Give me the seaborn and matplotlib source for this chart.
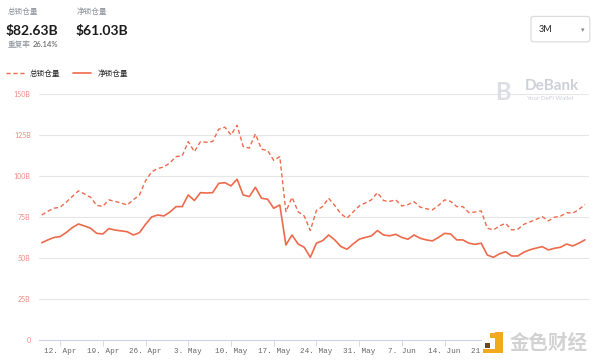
import numpy as np
import pandas as pd
import seaborn as sns
import matplotlib.pyplot as plt
import matplotlib.dates as mdates
from matplotlib.ticker import FuncFormatter
from matplotlib.patches import FancyBboxPatch, Rectangle

# 数据：每日锁仓量 (单位 B)
start_date = "2021-04-09"
total_locked = [
    76.2, 78.5, 80.3, 80.9, 84.0, 87.5, 90.9, 89.0, 87.0, 82.0,
    81.5, 85.4, 84.5, 83.5, 82.3, 85.5, 88.4, 97.0, 102.5, 104.5,
    105.5, 108.0, 111.8, 112.2, 120.9, 114.8, 120.9, 120.5, 121.0, 128.5,
    129.7, 125.0, 130.9, 117.9, 117.0, 125.6, 116.3, 115.5, 109.5, 111.8,
    78.2, 87.0, 78.2, 75.6, 66.7, 79.0, 81.3, 86.4, 82.0, 77.0,
    74.2, 78.0, 81.7, 83.5, 85.4, 89.8, 85.0, 84.5, 85.4, 81.7,
    82.5, 84.3, 81.0, 80.0, 79.3, 82.0, 85.4, 84.5, 81.3, 81.3,
    77.6, 78.0, 78.7, 68.1, 67.1, 69.5, 71.1, 67.1, 67.5, 70.5,
    72.0, 73.5, 75.2, 72.6, 74.8, 75.5, 77.6, 77.3, 79.5, 82.63,
]
net_locked = [
    59.3, 61.0, 62.5, 63.0, 65.5, 68.5, 70.7, 69.5, 68.1, 65.0,
    64.6, 67.9, 67.0, 66.5, 66.0, 64.0, 65.4, 70.5, 75.0, 76.2,
    75.6, 78.0, 81.3, 81.3, 88.4, 85.0, 89.8, 89.6, 89.8, 95.5,
    95.9, 93.9, 98.0, 88.4, 87.4, 93.1, 86.4, 85.8, 80.3, 82.3,
    57.9, 64.0, 58.5, 56.5, 50.4, 59.0, 60.5, 64.0, 61.0, 57.0,
    55.3, 58.5, 61.4, 62.5, 63.4, 66.7, 64.0, 63.5, 64.4, 62.5,
    61.4, 64.0, 62.0, 61.0, 60.4, 62.5, 65.0, 64.6, 61.0, 61.0,
    59.0, 58.3, 59.0, 51.8, 50.4, 52.5, 53.8, 51.2, 51.2, 53.5,
    55.0, 56.0, 56.9, 54.9, 55.9, 56.5, 58.5, 57.3, 59.0, 61.03,
]
y_ticks = [0, 25, 50, 75, 100, 125, 150]
y_labels = ["0", "25B", "50B", "75B", "100B", "125B", "150B"]
last_label_date = "2021-06-21"   # 之后的刻度被水印盖住

dates = pd.date_range(start_date, periods=len(total_locked), freq="D")
df = pd.DataFrame({"date": dates, "总锁仓量": total_locked, "净锁仓量": net_locked})

sns.set_style("white")
plt.rcParams['font.family'] = ['Lato', 'Noto Sans CJK SC', 'DejaVu Sans']

line_c = "#ee6a4c"
fig = plt.figure(figsize=(6, 3.64), dpi=100)
ax = fig.add_axes([0.065, 0.066, 0.917, 0.676])

sns.lineplot(data=df, x="date", y="总锁仓量", ax=ax, color=line_c, lw=1.0,
             linestyle=(0, (3, 2)))
sns.lineplot(data=df, x="date", y="净锁仓量", ax=ax, color=line_c, lw=1.2)

ax.set_ylim(0, 150)
ax.set_xlim(dates[0] - pd.Timedelta(hours=11), dates[0] + pd.Timedelta(days=89.7))
ax.set_yticks(y_ticks)
ax.set_yticklabels(y_labels)
ax.yaxis.grid(True, color="#e6e6e6", lw=0.8)
ax.set_xlabel("")
ax.set_ylabel("")
for s in ["top", "right", "left"]:
    ax.spines[s].set_visible(False)
ax.spines["bottom"].set_color("#ccd6eb")
ax.spines["bottom"].set_linewidth(0.8)

cutoff = mdates.date2num(pd.Timestamp(last_label_date))

def fmt_date(v, pos):
    if v > cutoff + 0.5:
        return ""
    return mdates.num2date(v).strftime("%-d. %b")

ax.xaxis.set_major_locator(mdates.WeekdayLocator(byweekday=mdates.MO))
ax.xaxis.set_major_formatter(FuncFormatter(fmt_date))
ax.tick_params(axis="x", bottom=True, length=4, width=0.6, color="#ccd6eb",
               labelsize=5.5, labelcolor="#666666", pad=2)
for t in ax.get_xticklabels():
    t.set_family("Liberation Mono")
ax.tick_params(axis="y", length=0, labelsize=5, labelcolor="#f08a80", pad=6)

# 顶部信息
fig.text(0.012, 0.962, "总锁仓量", fontsize=5.5, color="#8a8f99")
fig.text(0.010, 0.905, "$82.63B", fontsize=10, fontweight="bold", color="#1b1b1b")
fig.text(0.128, 0.962, "净锁仓量", fontsize=5.5, color="#8a8f99")
fig.text(0.126, 0.905, "$61.03B", fontsize=10, fontweight="bold", color="#1b1b1b")
fig.text(0.012, 0.870, "重复率", fontsize=5.5, color="#8a8f99")
fig.text(0.055, 0.870, "26.14%", fontsize=5.5, color="#555555")

# 图例
fig.add_artist(plt.Line2D([0.010, 0.042], [0.800, 0.800], color=line_c, lw=1.0,
                          linestyle=(0, (3, 2))))
fig.text(0.050, 0.800, "总锁仓量", fontsize=5.5, color="#222222", va="center")
fig.add_artist(plt.Line2D([0.122, 0.152], [0.800, 0.800], color=line_c, lw=1.2))
fig.text(0.163, 0.800, "净锁仓量", fontsize=5.5, color="#222222", va="center")

# 3M 下拉框
fig.add_artist(FancyBboxPatch((0.885, 0.885), 0.098, 0.070,
                              boxstyle="round,pad=0,rounding_size=0.006",
                              transform=fig.transFigure, fc="white",
                              ec="#d9d9d9", lw=0.8))
fig.text(0.897, 0.918, "3M", fontsize=6.5, color="#222222", va="center")
fig.text(0.968, 0.918, "▾", fontsize=5, color="#888888", va="center",
         family="DejaVu Sans")

# DeBank 水印
fig.text(0.826, 0.745, "B", fontsize=17, fontweight="bold", color="#dcdee3",
         va="center", ha="left")
fig.text(0.874, 0.763, "DeBank", fontsize=11, fontweight="bold", color="#cdd0d6",
         va="center")
fig.text(0.876, 0.729, "Your DeFi Wallet", fontsize=4.5, color="#cdd0d6",
         va="center")

# 金色财经 水印 (白底遮住右下角刻度)
fig.add_artist(Rectangle((0.803, 0.0), 0.197, 0.12, transform=fig.transFigure,
                         fc="white", ec="none", zorder=5))
orange = "#f3a81e"
fig.add_artist(Rectangle((0.825, 0.030), 0.013, 0.058, transform=fig.transFigure,
                         fc=orange, ec="none", zorder=6))
fig.add_artist(Rectangle((0.805, 0.030), 0.033, 0.012, transform=fig.transFigure,
                         fc=orange, ec="none", zorder=6))
fig.add_artist(Rectangle((0.817, 0.071), 0.008, 0.014, transform=fig.transFigure,
                         fc=orange, ec="none", zorder=6))
fig.add_artist(Rectangle((0.808, 0.044), 0.008, 0.014, transform=fig.transFigure,
                         fc="#6b4a1a", ec="none", zorder=6))
fig.text(0.850, 0.057, "金色财经", fontsize=14, color="#d2d2d2", va="center",
         family="Noto Sans CJK SC", fontweight="bold", zorder=7)

plt.savefig("out.png", dpi=100)
